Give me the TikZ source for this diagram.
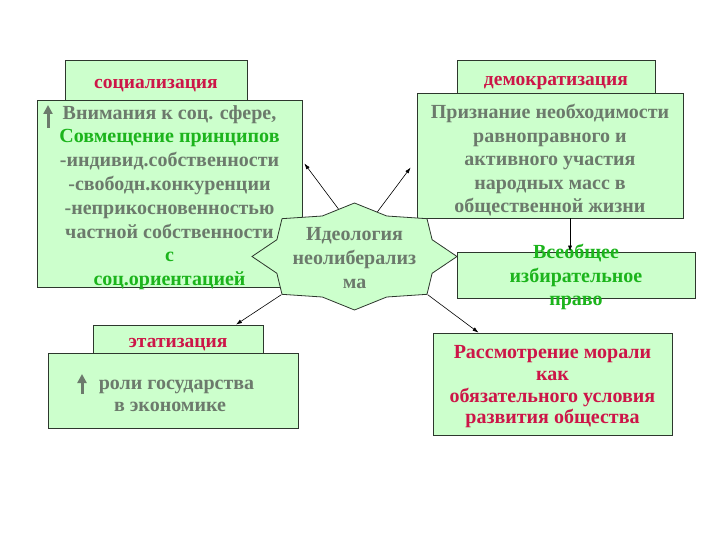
\documentclass[tikz,border=0pt]{standalone}
\usepackage{fontspec}
\setmainfont{Liberation Serif}
\usetikzlibrary{arrows.meta, calc, shapes.geometric}

\definecolor{boxgreen}{RGB}{204,255,204}
\definecolor{txtgray}{RGB}{108,122,108}
\definecolor{txtred}{RGB}{204,22,72}
\definecolor{txtgreen}{RGB}{28,180,28}
\definecolor{edgegray}{RGB}{45,55,45}

\tikzset{
  greenbox/.style={draw=edgegray, fill=boxgreen, line width=0.8pt, inner sep=0pt},
  headtext/.style={text=txtred, inner sep=0pt, font=\bfseries\fontsize{19.5}{22}\selectfont},
  bodytext/.style={text=txtgray, align=center, inner sep=0pt, font=\bfseries\fontsize{20}{23.8}\selectfont},
  link/.style={-{Latex[length=6pt,width=4pt]}, line width=0.6pt},
  uparrow/.style={-{Triangle[length=9pt,width=9pt]}, line width=3pt, draw=txtgray}
}

\begin{document}
\begin{tikzpicture}[x=1pt, y=-1pt]
    \useasboundingbox (0,0) rectangle (720,540);

    % headings
    \node[greenbox, minimum width=182, minimum height=44] (soctitle) at (156,82) {};
    \node[greenbox, minimum width=198, minimum height=36] (demtitle) at (556,78) {};
    \node[greenbox, minimum width=170, minimum height=32] (etattitle) at (178,341) {};
    \node[headtext] (soctitletext) at (156,86) {социализация};
    \node[headtext] (demtitletext) at (556,83) {демократизация};
    \node[headtext] (etattitletext) at (178,345) {этатизация};

    % boxes
    \node[greenbox, minimum width=265, minimum height=187] (soc) at (169.5,193.5) {};
    \node[greenbox, minimum width=266, minimum height=125] (dem) at (550,155.5) {};
    \node[greenbox, minimum width=238, minimum height=46] (vseob) at (576,275) {};
    \node[greenbox, minimum width=250, minimum height=75] (etat) at (173,390.5) {};
    \node[greenbox, minimum width=239, minimum height=102] (moral) at (552.5,384) {};

    \node[bodytext] (soctext) at (169.5,197.5)
        {Внимания к соц. сфере,\\ \textcolor{txtgreen}{Совмещение принципов}\\ -индивид.собственности\\
         -свободн.конкуренции\\ -неприкосновенностью\\ частной собственности\\
         \textcolor{txtgreen}{с}\\ \textcolor{txtgreen}{соц.ориентацией}};
    \node[bodytext, font=\bfseries\fontsize{20}{23.5}\selectfont] (demtext) at (550,160.5)
        {Признание необходимости\\ равноправного и\\ активного участия\\ народных масс в\\ общественной жизни};
    \node[bodytext, text=txtgreen] (vseobtext) at (576,277)
        {Всеобщее\\ избирательное\\ право};
    \node[bodytext, font=\bfseries\fontsize{20}{22}\selectfont] (etattext) at (176.5,396)
        {роли государства\\ \hspace*{-13pt}в экономике};
    \node[bodytext, text=txtred, font=\bfseries\fontsize{20}{21.7}\selectfont] (moraltext) at (552.5,387)
        {Рассмотрение морали\\ как\\ обязательного условия\\ развития общества};

    \draw[uparrow] (48,128) -- (48,105);
    \draw[uparrow] (82,394) -- (82,374);

    % star in the middle
    \node[star, star points=8, star point ratio=1.22, minimum size=107, xscale=1.916,
          draw=edgegray, fill=boxgreen, line width=0.8pt, inner sep=0pt] (ideostar) at (354.5,256.5) {};
    \node[bodytext] (ideo) at (354.5,258)
        {Идеология\\ неолиберализ\\ ма};

    % arrows
    \draw[link] (ideostar.100) -- ($(soc.east)+(2,-30)$);
    \draw[link] (ideostar.75) -- ($(dem.west)+(-6,12)$);
    \draw[link] ($(dem.south)+(20,0)$) -- ($(vseob.north)+(-6,0)$);
    \draw[link] (ideostar.225) -- ($(etattitle.north)+(58,0)$);
    \draw[link] (ideostar.315) -- ($(moral.north)+(-74,0)$);
\end{tikzpicture}
\end{document}
